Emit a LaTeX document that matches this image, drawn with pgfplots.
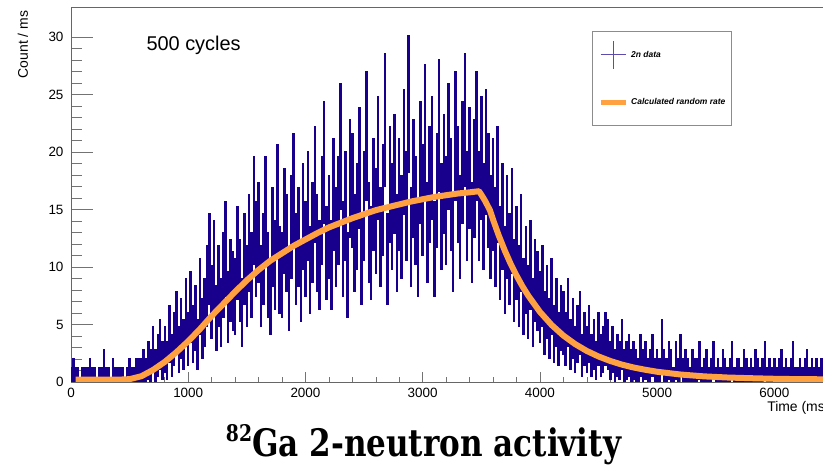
\documentclass[border=0pt]{standalone}
\usepackage{fontspec}
\setmainfont{Liberation Sans}
\newfontfamily\titlefont{DejaVu Serif}[FakeStretch=0.82]
\usepackage{pgfplots}
\usepackage{pgfplotstable}
\pgfplotsset{compat=1.18}
\definecolor{datablue}{RGB}{24,0,140}
\definecolor{fitorange}{RGB}{255,160,65}

\pgfplotstableread{
t v
0 0.47
20 0.93
40 0.47
60 0.47
80 0.00
100 0.47
120 0.47
140 0.47
160 0.93
180 0.47
200 0.47
220 0.00
240 0.47
260 0.47
280 1.40
300 0.47
320 0.47
340 0.00
360 0.93
380 0.47
400 0.47
420 0.47
440 0.47
460 0.00
480 0.47
500 0.93
520 0.47
540 0.47
560 0.93
580 0.93
600 0.93
620 1.40
640 0.93
660 1.86
680 1.40
700 2.79
720 1.40
740 2.33
760 3.26
780 1.86
800 2.79
820 1.86
840 4.19
860 2.33
880 3.72
900 5.12
920 2.79
940 4.65
960 3.26
980 6.05
1000 3.72
1020 6.51
1040 4.19
1060 5.58
1080 3.26
1100 7.44
1120 4.65
1140 6.05
1160 8.37
1180 10.7
1200 6.98
1220 10.2
1240 5.58
1260 8.37
1280 6.05
1300 9.30
1320 11.6
1340 6.51
1360 8.84
1380 7.91
1400 7.44
1420 11.2
1440 8.84
1460 6.05
1480 10.7
1500 8.37
1520 12.1
1540 9.30
1560 14.9
1580 11.6
1600 13.0
1620 8.37
1640 10.7
1660 14.9
1680 9.30
1700 7.44
1720 12.6
1740 10.2
1760 15.8
1780 9.77
1800 9.30
1820 14.0
1840 12.1
1860 7.91
1880 13.5
1900 16.7
1920 10.7
1940 12.6
1960 8.84
1980 14.4
2000 11.6
2020 15.3
2040 9.77
2060 13.0
2080 17.2
2100 12.1
2120 10.2
2140 14.9
2160 19.1
2180 11.2
2200 13.5
2220 10.2
2240 16.3
2260 12.6
2280 14.9
2300 20.5
2320 11.6
2340 15.3
2360 9.30
2380 17.7
2400 16.7
2420 12.1
2440 14.4
2460 18.6
2480 10.7
2500 15.3
2520 21.4
2540 13.0
2560 11.2
2580 16.3
2600 14.0
2620 19.5
2640 12.6
2660 15.8
2680 22.8
2700 10.7
2720 17.2
2740 14.4
2760 18.1
2780 12.1
2800 16.3
2820 13.5
2840 20.0
2860 15.3
2880 24.2
2900 12.6
2920 17.7
2940 14.9
2960 11.6
2980 19.1
3000 15.8
3020 21.9
3040 13.0
3060 17.2
3080 19.5
3100 11.6
3120 16.7
3140 22.3
3160 14.4
3180 18.1
3200 14.9
3220 20.5
3240 16.3
3260 12.1
3280 21.4
3300 17.2
3320 13.5
3340 19.1
3360 22.8
3380 15.3
3400 18.6
3420 13.0
3440 17.7
3460 21.4
3480 15.3
3500 19.5
3520 14.4
3540 20.0
3560 16.7
3580 13.5
3600 16.3
3620 12.6
3640 17.2
3660 11.2
3680 14.4
3700 9.77
3720 13.5
3740 10.7
3760 14.0
3780 8.84
3800 11.2
3820 8.37
3840 12.1
3860 7.44
3880 9.77
3900 6.98
3920 10.2
3940 6.05
3960 8.84
3980 7.91
4000 6.51
4020 8.37
4040 5.12
4060 6.98
4080 4.65
4100 7.44
4120 4.19
4140 6.05
4160 3.72
4180 5.58
4200 5.12
4220 3.72
4240 6.05
4260 3.26
4280 4.65
4300 2.79
4320 4.19
4340 5.12
4360 2.33
4380 3.72
4400 2.79
4420 4.19
4440 2.33
4460 3.26
4480 1.86
4500 3.72
4520 2.33
4540 2.79
4560 3.72
4580 3.26
4600 1.86
4620 2.79
4640 1.40
4660 2.33
4680 1.86
4700 3.26
4720 1.40
4740 1.86
4760 2.33
4780 1.40
4800 1.86
4820 1.40
4840 0.93
4860 2.33
4880 1.40
4900 1.86
4920 0.93
4940 1.40
4960 2.33
4980 0.93
5000 1.40
5020 0.93
5040 3.26
5060 1.40
5080 0.93
5100 1.86
5120 1.40
5140 0.47
5160 1.86
5180 0.93
5200 2.33
5220 0.93
5240 1.40
5260 0.93
5280 0.47
5300 1.40
5320 0.93
5340 0.93
5360 1.86
5380 0.47
5400 0.93
5420 1.40
5440 0.47
5460 0.93
5480 1.86
5500 0.47
5520 0.93
5540 0.47
5560 1.40
5580 0.93
5600 0.47
5620 0.93
5640 1.86
5660 0.47
5680 0.93
5700 0.93
5720 0.47
5740 1.40
5760 0.93
5780 0.47
5800 0.93
5820 0.47
5840 1.40
5860 0.93
5880 0.47
5900 0.93
5920 1.86
5940 0.47
5960 0.93
5980 0.47
6000 0.93
6020 0.47
6040 0.93
6060 1.40
6080 0.47
6100 0.93
6120 0.47
6140 0.93
6160 1.86
6180 0.47
6200 0.47
6220 0.93
6240 0.47
6260 0.93
6280 1.40
6300 0.47
6320 0.93
6340 0.47
6360 0.93
6380 0.47
6400 0.93
6420 0.47
6440 0.93
}\datatable

\begin{document}
\begin{tikzpicture}[x=1bp,y=1bp]
\begin{axis}[
  at={(71bp,84bp)}, anchor=south west,
  scale only axis, width=762bp, height=374.7bp,
  xmin=0, xmax=6500, ymin=0, ymax=32.6,
  axis line style={black!60, line width=0.6bp},
  tick pos=left, tick align=inside,
  xtick={0,1000,...,6000}, ytick={0,5,...,30},
  minor x tick num=4, minor y tick num=4,
  xtick style={black!55, line width=0.6bp, /pgfplots/major tick length=10bp, /pgfplots/minor tick length=5bp},
  ytick style={black!55, line width=0.6bp, /pgfplots/major tick length=22bp, /pgfplots/minor tick length=11bp},
  tick label style={font=\fontsize{13.5}{16}\selectfont, black},
  /pgf/number format/assume math mode=true,
  /pgf/number format/1000 sep={},
  yticklabel style={xshift=-4bp},
  xticklabel style={yshift=-3bp},
  xlabel={Time (ms)},
  xlabel style={at={(axis description cs:1,-0.0694)}, anchor=east, font=\fontsize{14}{16}\selectfont},
  ylabel={Count / ms},
  ylabel style={at={(axis description cs:-0.063,1)}, anchor=east, font=\fontsize{14}{16}\selectfont},
  legend style={at={(0.6837,0.9367)}, anchor=north west, draw=black!45, line width=0.5bp,
    fill=white, inner xsep=6bp, inner ysep=9bp, row sep=19bp, column sep=3bp,
    font=\fontsize{8.5}{10}\selectfont\bfseries\itshape, nodes={inner sep=0pt}},
  legend cell align=left,
]
\addplot[draw=none, mark=none, datablue,
  legend image code/.code={\path[draw=none, fill=none] (0bp,-14bp) rectangle (25bp,14bp);
    \draw[datablue!70, line width=1bp] (0bp,0bp)--(25bp,0bp) (12.5bp,-14bp)--(12.5bp,14bp);},
  error bars/.cd, y dir=both, y explicit, error mark=none,
  error bar style={draw=datablue, line width=2.5bp}]
  table[x=t, y=v, y error expr={sqrt(1.5*\thisrow{v})}] {\datatable};
\addlegendentry{2n data}
\addplot[fitorange, line width=6bp, line join=round,
  legend image code/.code={\path[draw=none, fill=none] (0bp,-14bp) rectangle (25bp,14bp);
    \draw[fitorange, line width=5bp] (0bp,0bp)--(25bp,0bp);}]
  coordinates {
  (40,0.2) (200,0.2) (400,0.2) (500,0.25) (600,0.5) (700,1.05) (800,1.75) (900,2.6)
  (1000,3.55) (1100,4.6) (1200,5.75) (1300,6.8) (1400,7.85) (1500,8.85) (1600,9.75)
  (1700,10.55) (1800,11.2) (1900,11.85) (2000,12.4) (2100,12.95) (2200,13.45)
  (2300,13.85) (2400,14.25) (2500,14.6) (2600,14.95) (2700,15.2) (2800,15.45)
  (2900,15.7) (3000,15.9) (3100,16.1) (3200,16.25) (3300,16.4) (3400,16.5)
  (3480,16.6) (3500,16.3) (3530,15.8) (3573,14.96) (3600,14.13) (3650,12.71)
  (3700,11.44) (3750,10.29) (3800,9.27) (3850,8.34) (3900,7.52) (4000,6.10)
  (4100,4.96) (4200,4.04) (4300,3.30) (4400,2.70) (4500,2.22) (4600,1.83)
  (4700,1.51) (4800,1.26) (4900,1.06) (5000,0.89) (5200,0.65) (5400,0.49)
  (5600,0.39) (5800,0.33) (6000,0.28) (6200,0.25) (6500,0.23)
  };
\addlegendentry{Calculated random rate}
\end{axis}
\node[anchor=base west, font=\fontsize{20}{24}\selectfont] at (143bp,415bp) {500 cycles};
\node[anchor=base, font=\titlefont\bfseries\fontsize{38}{42}\selectfont] at (423.5bp,10bp)
  {\raisebox{15bp}{\fontsize{23}{25}\selectfont 82}Ga 2-neutron activity};
\pgfresetboundingbox
\useasboundingbox (0bp,0bp) rectangle (823bp,466bp);
\end{tikzpicture}
\end{document}
